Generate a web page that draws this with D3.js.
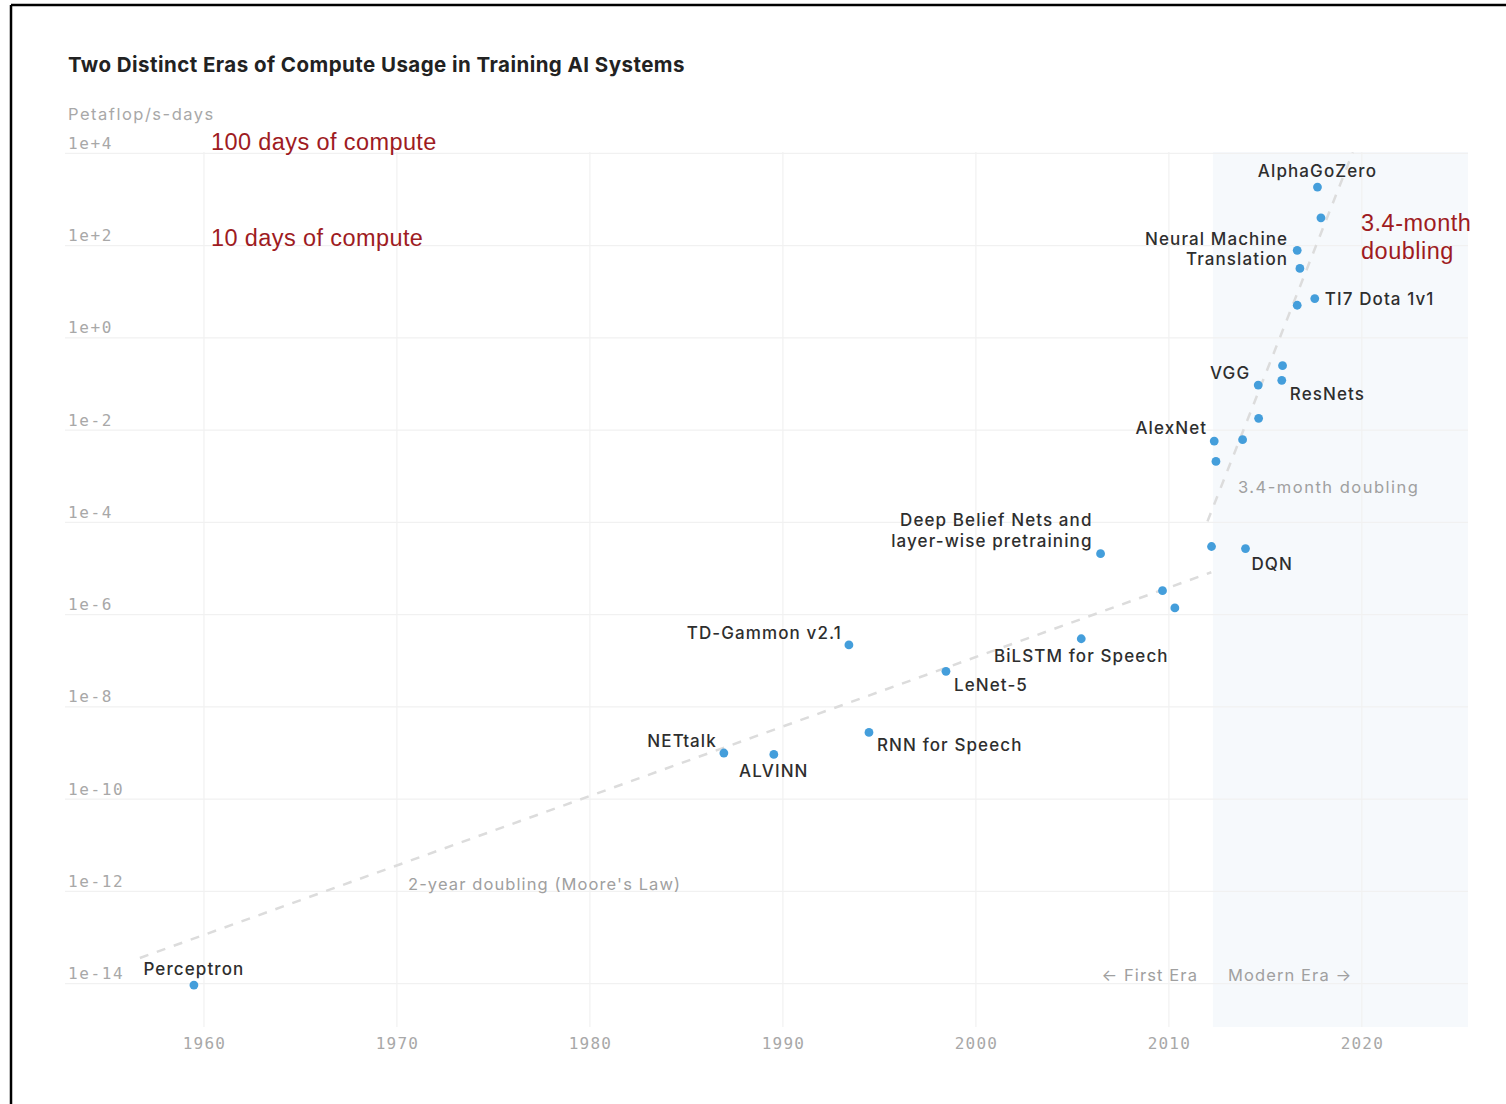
<!DOCTYPE html>
<html>
<head>
<meta charset="utf-8">
<script src="https://cdn.jsdelivr.net/npm/d3@7"></script>
<style>
  html, body { margin: 0; padding: 0; background: #fff; }
  svg { display: block; }
</style>
</head>
<body>
<svg id="chart" width="1506" height="1104"></svg>
<script>
// ---------------- DATA ----------------
const systems = ["Perceptron","NETtalk","ALVINN","RNN for Speech","TD-Gammon v2.1","LeNet-5",
  "BiLSTM for Speech","Deep Belief Nets and layer-wise pretraining","u1","u2","u3","DQN","u4",
  "AlexNet","u5","u6","VGG","ResNets","u7","u8","TI7 Dota 1v1","Neural Machine Translation","u9","u10","AlphaGoZero"];
const years = [1959.48,1986.94,1989.53,1994.46,1993.42,1998.45,
  2005.46,2006.46,2009.67,2010.31,2012.21,2013.97,2012.44,
  2012.35,2013.82,2014.65,2014.63,2015.85,2015.89,2016.65,2017.56,2016.65,2016.79,2017.88,2017.70];
const petaflopDays = [9.3e-15,1.0e-9,9.3e-10,2.8e-9,2.2e-7,5.9e-8,
  3.0e-7,2.1e-5,3.3e-6,1.4e-6,3.0e-5,2.7e-5,2.1e-3,
  5.8e-3,6.2e-3,1.8e-2,9.5e-2,0.12,0.25,5.1,7.1,79,32,400,1860];

const yTickValues = [1e4,1e2,1e0,1e-2,1e-4,1e-6,1e-8,1e-10,1e-12,1e-14];
const yTickLabels = ["1e+4","1e+2","1e+0","1e-2","1e-4","1e-6","1e-8","1e-10","1e-12","1e-14"];
const xTickValues = [1960,1970,1980,1990,2000,2010,2020];

// trend lines: [startYear, startValue] -> [endYear, endValue]
const mooreLine = [[1956.68, 3.6e-14],[2012.2, 8.3e-6]];
const modernLine = [[2012.0, 1.05e-4],[2019.53, 1.05e4]];
const modernEraStart = 2012.28;

// ---------------- LAYOUT / STYLE ----------------
const svg = d3.select("#chart");
const plot = {left: 65, right: 1468, top: 152, bottom: 1027};
const x = d3.scaleLinear().domain([1952.8, 2025.5]).range([plot.left, plot.right]);
const y = d3.scaleLog().domain([Math.pow(10,-14.94), Math.pow(10,4.03)]).range([plot.bottom, plot.top]);

const labelFont = "Inter, 'DejaVu Sans', sans-serif";
const monoFont = "'DejaVu Sans Mono', 'Liberation Mono', monospace";

// frame
svg.append("line").attr("x1",11).attr("y1",5).attr("x2",1506).attr("y2",5).attr("stroke","#000").attr("stroke-width",2.5);
svg.append("line").attr("x1",11).attr("y1",5).attr("x2",11).attr("y2",1104).attr("stroke","#000").attr("stroke-width",2.5);

// modern era shading
svg.append("rect")
  .attr("x", x(modernEraStart)).attr("y", plot.top)
  .attr("width", plot.right - x(modernEraStart)).attr("height", plot.bottom - plot.top)
  .attr("fill", "#f6f9fc");

// vertical grid
svg.append("g").selectAll("line").data(xTickValues).join("line")
  .attr("x1", d => x(d)).attr("x2", d => x(d))
  .attr("y1", plot.top).attr("y2", plot.bottom)
  .attr("stroke", "#f1f1f1").attr("stroke-width", 1.2);

// horizontal grid
svg.append("g").selectAll("line").data(yTickValues).join("line")
  .attr("x1", plot.left).attr("x2", plot.right)
  .attr("y1", d => y(d)).attr("y2", d => y(d))
  .attr("stroke", "#f1f1f1").attr("stroke-width", 1.2);

// y axis labels
const yAxis = d3.axisRight(y).tickValues(yTickValues).tickFormat((d,i) => yTickLabels[i]).tickSize(0);
const gy = svg.append("g").attr("transform", `translate(${68},0)`).call(yAxis);
gy.select(".domain").remove();
gy.selectAll("text")
  .attr("x", 0).attr("dy", "-0.32em")
  .attr("text-anchor", "start")
  .attr("font-family", monoFont).attr("font-size", 16).attr("letter-spacing", "1.6px")
  .attr("fill", "#a8a8a8");

// x axis
const xAxis = d3.axisBottom(x).tickValues(xTickValues).tickFormat(d3.format("d")).tickSize(0);
const gx = svg.append("g").attr("transform", `translate(0,${1043})`).call(xAxis);
gx.select(".domain").remove();
gx.selectAll("text")
  .attr("y", 0).attr("dy", "0.35em")
  .attr("font-family", monoFont).attr("font-size", 16).attr("letter-spacing", "1.2px")
  .attr("fill", "#a8a8a8");

// trend lines
const line = d3.line().x(d => x(d[0])).y(d => y(d[1]));
[mooreLine, modernLine].forEach(l => {
  svg.append("path").attr("d", line(l))
    .attr("fill", "none").attr("stroke", "#dcdcdc")
    .attr("stroke-width", 2.5).attr("stroke-dasharray", "9,9");
});

// points
const pts = systems.map((s,i) => ({name: s, year: years[i], value: petaflopDays[i]}));
svg.append("g").selectAll("circle").data(pts).join("circle")
  .attr("cx", d => x(d.year)).attr("cy", d => y(d.value))
  .attr("r", 4.4).attr("fill", "#449edb");

// point labels: placement relative to point
const labelPlacement = {
  "Perceptron": {anchor:"middle", dx:0, dy:[-16]},
  "NETtalk": {anchor:"end", dx:-7, dy:[-12]},
  "ALVINN": {anchor:"middle", dx:0, dy:[17]},
  "RNN for Speech": {anchor:"start", dx:8, dy:[13]},
  "TD-Gammon v2.1": {anchor:"end", dx:-7, dy:[-12]},
  "LeNet-5": {anchor:"start", dx:8, dy:[14]},
  "BiLSTM for Speech": {anchor:"middle", dx:0, dy:[17]},
  "Deep Belief Nets and layer-wise pretraining": {anchor:"end", dx:-8, dy:[-34,-13], lines:["Deep Belief Nets and","layer-wise pretraining"]},
  "DQN": {anchor:"start", dx:6, dy:[15]},
  "AlexNet": {anchor:"end", dx:-7, dy:[-13]},
  "VGG": {anchor:"end", dx:-8, dy:[-12]},
  "ResNets": {anchor:"start", dx:8, dy:[14]},
  "TI7 Dota 1v1": {anchor:"start", dx:10, dy:[0]},
  "Neural Machine Translation": {anchor:"end", dx:-9, dy:[-11,9], lines:["Neural Machine","Translation"]},
  "AlphaGoZero": {anchor:"middle", dx:0, dy:[-16]}
};
const gl = svg.append("g");
pts.filter(d => labelPlacement[d.name]).forEach(d => {
  const p = labelPlacement[d.name];
  const lines = p.lines || [d.name];
  lines.forEach((t, k) => {
    gl.append("text")
      .attr("x", x(d.year) + p.dx).attr("y", y(d.value) + p.dy[k])
      .attr("dy", "0.35em").attr("text-anchor", p.anchor)
      .attr("font-family", labelFont).attr("font-size", 17).attr("font-weight", 500)
      .attr("letter-spacing", "1.1px").attr("fill", "#2e2e2e")
      .text(t);
  });
});

// gray annotations
function txt(t, px, py, opts) {
  return svg.append("text").attr("x", px).attr("y", py).attr("dy","0.35em")
    .attr("text-anchor", opts.anchor || "start")
    .attr("font-family", opts.font || labelFont)
    .attr("font-size", opts.size || 16)
    .attr("font-weight", opts.weight || 400)
    .attr("letter-spacing", opts.ls || "0px")
    .attr("fill", opts.fill || "#999").text(t);
}
txt("Two Distinct Eras of Compute Usage in Training AI Systems", 68, 65, {size: 20.5, weight: 700, fill: "#222", ls: "0.45px"});
txt("Petaflop/s-days", 68, 114, {size: 16.5, fill: "#a8a8a8", ls: "1.5px"});
txt("3.4-month doubling", 1238, 487, {size: 16.5, fill: "#a0a0a0", ls: "1.5px"});
txt("2-year doubling (Moore's Law)", 408, 884, {size: 16.5, fill: "#a0a0a0", ls: "1.1px"});
txt("\u2190 First Era", 1198, 975, {anchor: "end", size: 16.5, fill: "#a0a0a0", ls: "1.1px"});
txt("Modern Era \u2192", 1228, 975, {size: 16.5, fill: "#a0a0a0", ls: "1.1px"});

// red annotations
const red = "#9e1b22";
const redFont = "'Liberation Sans', Arial, sans-serif";
txt("100 days of compute", 211, 142, {font: redFont, size: 23.5, fill: red, ls: "0.4px"});
txt("10 days of compute", 211, 238, {font: redFont, size: 23.5, fill: red, ls: "0.4px"});
txt("3.4-month", 1361, 223, {font: redFont, size: 23.5, fill: red, ls: "0.5px"});
txt("doubling", 1361, 251, {font: redFont, size: 23.5, fill: red, ls: "0.5px"});
</script>
</body>
</html>
